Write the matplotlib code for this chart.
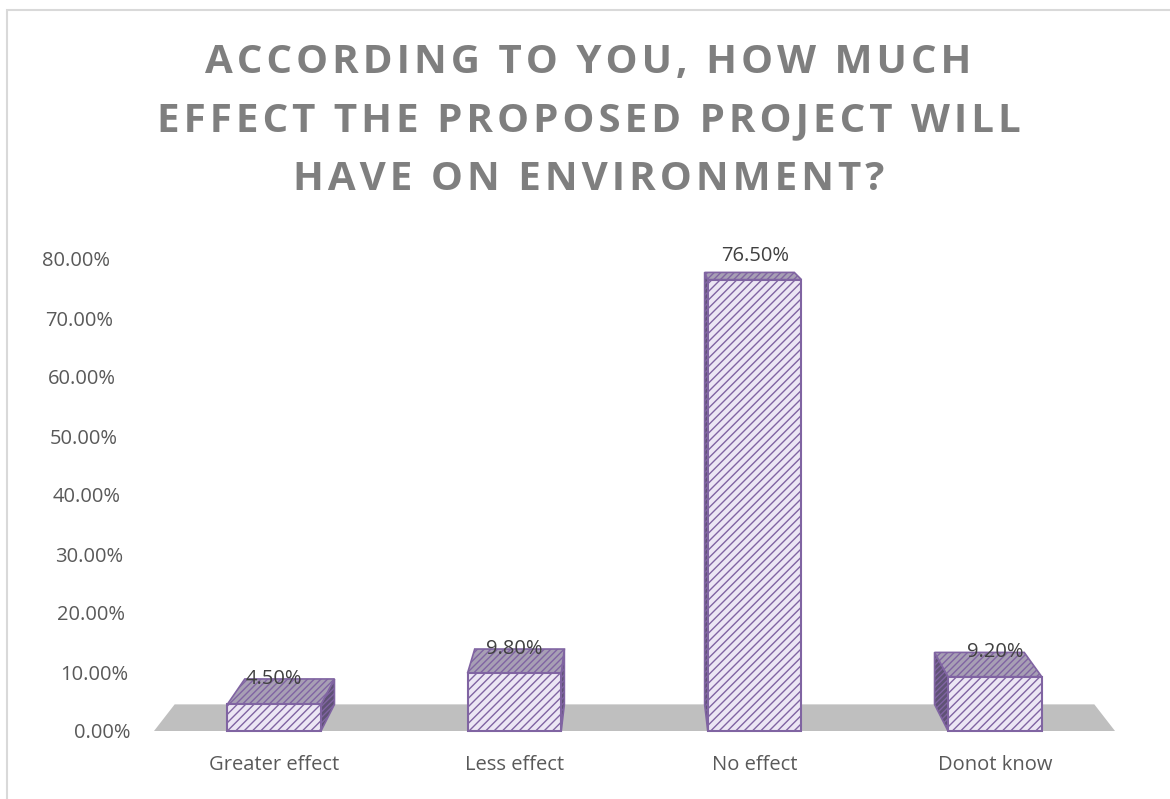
import matplotlib
matplotlib.use('Agg')
from matplotlib import pyplot as plt
from matplotlib.patches import Polygon, Rectangle
from matplotlib.transforms import ScaledTranslation

categories = ['Greater effect', 'Less effect', 'No effect', 'Donot know']
values = [4.5, 9.8, 76.5, 9.2]
value_labels = ['4.50%', '9.80%', '76.50%', '9.20%']
yticks = [0, 10, 20, 30, 40, 50, 60, 70, 80]
ytick_labels = ['0.00%', '10.00%', '20.00%', '30.00%', '40.00%',
                '50.00%', '60.00%', '70.00%', '80.00%']
title_lines = ['ACCORDING TO YOU, HOW MUCH',
               'EFFECT THE PROPOSED PROJECT WILL',
               'HAVE ON ENVIRONMENT?']

plt.rcParams['font.family'] = ['Open Sans', 'DejaVu Sans']
plt.rcParams['hatch.linewidth'] = 1.0

purple = '#8064a2'
face = '#ece6f4'
top_face = '#a79fb4'
side_face = '#5f5275'
floor_col = '#bfbfbf'

# simple one point perspective for the 3d look
vp = (1.5, 105.0)
k = 0.043
bar_w = 0.39


def back(x, y):
    return (x + k * (vp[0] - x), y + k * (vp[1] - y))


fig = plt.figure(figsize=(11.7, 7.99), dpi=100)
fig.patches.append(Rectangle((7 / 1170, -0.1), 1.2, 1 - 10 / 799 + 0.1,
                             transform=fig.transFigure, fill=False,
                             edgecolor='#d9d9d9', linewidth=1.5))

ax = fig.add_axes([154 / 1170, 68 / 799, 961 / 1170, 472 / 799])
ax.set_xlim(-0.5, 3.5)
ax.set_ylim(0, 80)
for s in ax.spines.values():
    s.set_visible(False)

# floor
x0, x1 = -0.5, 3.5
floor = [(x0, 0), (x1, 0), back(x1, 0), back(x0, 0)]
ax.add_patch(Polygon(floor, closed=True, facecolor=floor_col, edgecolor='none',
                     zorder=1, clip_on=False))

for i, v in enumerate(values):
    l, r = i - bar_w / 2, i + bar_w / 2
    # side face
    if i < vp[0]:
        side = [(r, 0), (r, v), back(r, v), back(r, 0)]
    else:
        side = [(l, 0), (l, v), back(l, v), back(l, 0)]
    ax.add_patch(Polygon(side, closed=True, facecolor=side_face, edgecolor=purple,
                         hatch='//////', linewidth=1.2, zorder=2, clip_on=False))
    # top face
    top = [(l, v), (r, v), back(r, v), back(l, v)]
    ax.add_patch(Polygon(top, closed=True, facecolor=top_face, edgecolor=purple,
                         hatch='/////', linewidth=1.2, zorder=2, clip_on=False))

ax.bar(range(len(values)), values, width=bar_w, color=face, edgecolor=purple,
       hatch='////', linewidth=1.5, zorder=3, clip_on=False)

label_dy = [0, 0, 12, 0]
for i, v in enumerate(values):
    bx, by = back(i, v)
    ax.annotate(value_labels[i], (i, by), xytext=(0, label_dy[i]),
                textcoords='offset points', ha='center', va='center',
                fontsize=14.5, color='#404040', zorder=5, annotation_clip=False)

ax.set_xticks(range(len(categories)))
ax.set_xticklabels(categories, fontsize=14.5, color='#595959')
ax.set_yticks(yticks)
ax.set_yticklabels(ytick_labels, fontsize=14.5, color='#595959')
ax.tick_params(axis='both', length=0)
ax.tick_params(axis='x', pad=17)
ax.tick_params(axis='y', pad=17)

# perspective staggering of the value axis labels
for t, lab in zip(yticks, ax.get_yticklabels()):
    dx = -0.25 * t * 0.72 / 72
    lab.set_transform(lab.get_transform() + ScaledTranslation(dx, 0, fig.dpi_scale_trans))

# title with a little letter spacing (hair spaces)
for n, line in enumerate(title_lines):
    fig.text(0.503, 1 - (62 + 59 * n) / 799, '\u200a'.join(line), ha='center',
             va='center', fontsize=29, fontweight='bold', color='#7f7f7f')

fig.savefig('out.png', dpi=100)
